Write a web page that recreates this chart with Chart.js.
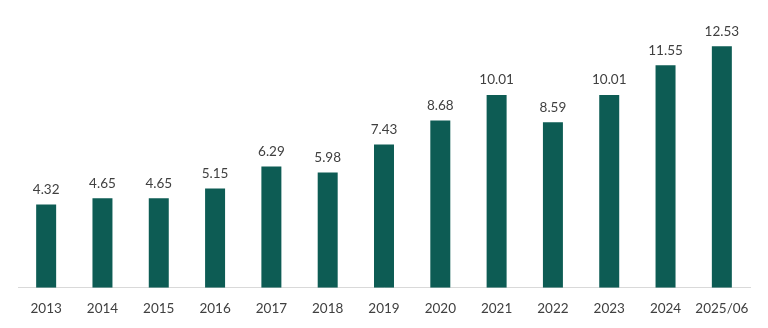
<!DOCTYPE html>
<html>
<head>
<meta charset="utf-8">
<script src="https://cdn.jsdelivr.net/npm/chart.js@4/dist/chart.umd.min.js"></script>
<style>
  html, body { margin: 0; padding: 0; background: #fff; }
  #wrap { width: 768px; height: 328px; }
</style>
</head>
<body>
<div id="wrap"><canvas id="chart" width="768" height="328"></canvas></div>
<script>
// years on the x axis and the value for each bar
const years = ['2013', '2014', '2015', '2016', '2017', '2018', '2019', '2020', '2021', '2022', '2023', '2024', '2025/06'];
const values = [4.32, 4.65, 4.65, 5.15, 6.29, 5.98, 7.43, 8.68, 10.01, 8.59, 10.01, 11.55, 12.53];

// value labels above each bar
const barLabels = {
    id: 'barLabels',
    afterDatasetsDraw(chart) {
        const ctx = chart.ctx;
        const meta = chart.getDatasetMeta(0);
        ctx.save();
        ctx.font = '13.5px Lato';
        ctx.fillStyle = '#404040';
        ctx.textAlign = 'center';
        ctx.textBaseline = 'middle';
        meta.data.forEach(function (bar, i) {
            ctx.fillText(values[i].toFixed(2), bar.x, bar.y - 15);
        });
        ctx.restore();
    }
};

new Chart(document.getElementById('chart').getContext('2d'), {
    type: 'bar',
    data: {
        labels: years,
        datasets: [{
            data: values,
            backgroundColor: '#0d5c54',
            barPercentage: 0.355,
            categoryPercentage: 1
        }]
    },
    options: {
        responsive: false,
        animation: false,
        layout: { padding: { left: 18, right: 18, top: 18, bottom: 6 } },
        plugins: { legend: { display: false }, tooltip: { enabled: false } },
        scales: {
            y: { display: false, min: 0, max: 14 },
            x: {
                grid: { display: false },
                border: { display: true, color: '#d9d9d9', width: 1 },
                ticks: { color: '#404040', font: { family: 'Lato', size: 13.5 }, padding: 5, maxRotation: 0 }
            }
        }
    },
    plugins: [barLabels]
});
</script>
</body>
</html>
